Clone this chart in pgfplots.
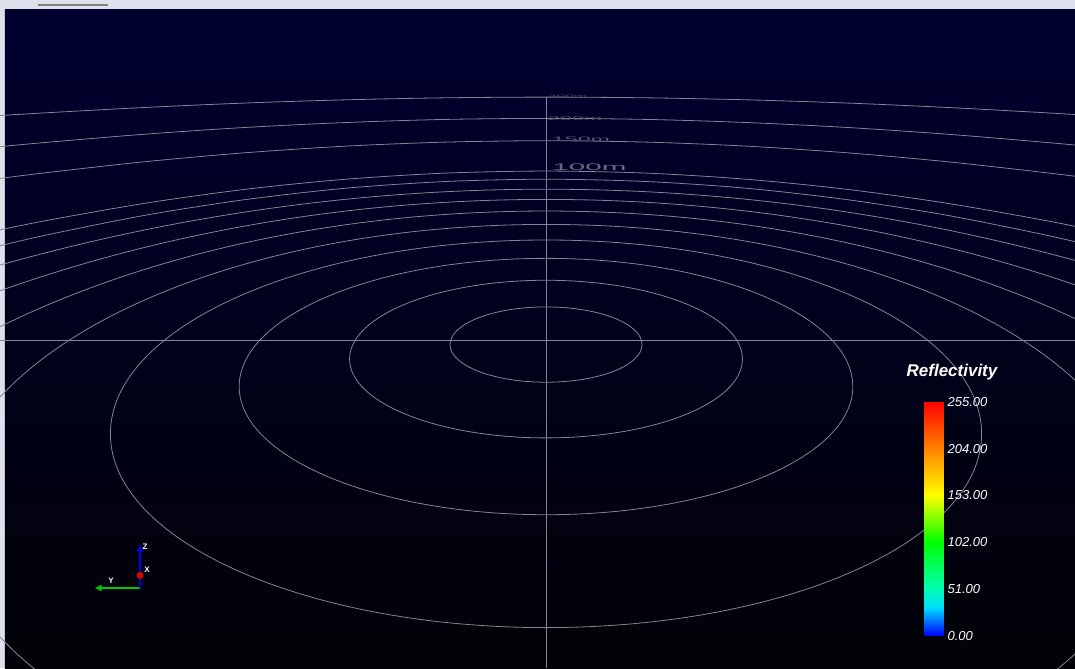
\documentclass[border=0pt]{standalone}
\usepackage{fontspec}
\setmainfont{Liberation Sans}
\usepackage{pgfplots}
\pgfplotsset{compat=1.18}
\usetikzlibrary{arrows.meta}

\definecolor{ringgray}{RGB}{132,132,146}
\definecolor{labelgray}{RGB}{105,105,128}
\definecolor{bgtop}{RGB}{0,0,48}
\definecolor{bgbottom}{RGB}{2,2,7}
\definecolor{winframe}{RGB}{222,224,236}
\definecolor{axgreen}{RGB}{0,200,0}
\definecolor{axblue}{RGB}{0,0,235}
\definecolor{axred}{RGB}{225,0,0}

\pgfplotsset{
  colormap={reflectivity}{rgb255(0cm)=(0,0,255); rgb255(1.2cm)=(0,220,255);
    rgb255(2cm)=(0,255,180); rgb255(4cm)=(0,255,0); rgb255(6cm)=(255,255,0);
    rgb255(8cm)=(255,130,0); rgb255(10cm)=(255,0,0)},
}
\tikzset{ring/.style={draw=ringgray, line width=0.6pt, mark=none}}

\begin{document}
\begin{tikzpicture}
\useasboundingbox (0,0) rectangle (806.25pt,501pt);
\begin{axis}[
  width=806.25pt, height=501pt, scale only axis,
  xmin=0, xmax=1075, ymin=0, ymax=668, y dir=reverse,
  hide axis,
  colormap name=reflectivity,
  point meta min=0, point meta max=255,
  colorbar,
  colorbar style={
    at={(parent axis.north west)}, anchor=north west,
    xshift=685pt, yshift=-301.3pt,
    width=15pt, height=175.5pt, scale only axis,
    ytick={0,51,102,153,204,255},
    yticklabels={0.00,51.00,102.00,153.00,204.00,255.00},
    yticklabel style={font=\fontsize{9.75}{10}\selectfont\itshape,
      text=white, inner sep=0pt, xshift=2pt},
    major tick length=0pt,
    axis line style={draw=none},
  },
]
% window frame and gradient background
\fill[winframe] (axis cs:0,0) rectangle (axis cs:1075,9);
\fill[winframe] (axis cs:0,0) rectangle (axis cs:5,668);
\fill[top color=bgtop, bottom color=bgbottom] (axis cs:5,9) rectangle (axis cs:1075,668);
\draw[gray, line width=1.5pt] (axis cs:38,4.5) -- (axis cs:108,4.5);

% polar grid: rings 10 m .. 80 m (closed in view)
\draw[ring] (axis cs:546,344.56) ellipse [x radius=96.0, y radius=37.65];
\draw[ring] (axis cs:546,359.07) ellipse [x radius=196.44, y radius=78.82];
\draw[ring] (axis cs:546,386.53) ellipse [x radius=306.83, y radius=128.19];
\draw[ring] (axis cs:546,433.80) ellipse [x radius=435.62, y radius=193.80];
\draw[ring] (axis cs:546,517.02) ellipse [x radius=598.4, y radius=292.60];
\draw[ring] (axis cs:546,681.72) ellipse [x radius=831.5, y radius=470.69];
\draw[ring] (axis cs:546,1118.4) ellipse [x radius=1254.9, y radius=918.99];
\draw[ring] (axis cs:546,4902.1) ellipse [x radius=3038.1, y radius=4712.9];

% far rings (90 m, 100 m, 150 m, 200 m, 300 m)
\addplot[ring, smooth] coordinates {
  (-14,249.1) (46,235.1) (146,215.1) (246,199.5) (346,188.2) (446,181.5) (546,179.2)
  (646,181.5) (746,188.2) (846,199.5) (946,215.1) (1046,235.1) (1106,249.1)};
\addplot[ring, smooth] coordinates {
  (-14,232.8) (46,220.6) (146,203.1) (246,189.2) (346,179.2) (446,173.1) (546,171.05)
  (646,173.1) (746,179.2) (846,189.2) (946,203.1) (1046,220.6) (1106,232.8)};
\addplot[ring, smooth] coordinates {
  (-14,180.2) (46,172.7) (146,161.6) (246,152.7) (346,146.1) (446,142.1) (546,140.7)
  (646,142.1) (746,146.1) (846,152.7) (946,161.6) (1046,172.7) (1106,180.2)};
\addplot[ring, smooth] coordinates {
  (-14,148.0) (46,142.4) (146,134.1) (246,127.4) (346,122.5) (446,119.4) (546,118.4)
  (646,119.4) (746,122.5) (846,127.4) (946,134.1) (1046,142.4) (1106,148.0)};
\addplot[ring, smooth] coordinates {
  (-14,116.4) (46,112.8) (146,107.4) (246,103.0) (346,99.8) (446,97.8) (546,97.1)
  (646,97.8) (746,99.8) (846,103.0) (946,107.4) (1046,112.8) (1106,116.4)};

% cross lines
\addplot[ring] coordinates {(0,340) (1075,340)};
\addplot[ring] coordinates {(546,96.7) (546,668)};

% ring labels lying on the ground
\node[text=labelgray, font=\fontsize{12}{12}\selectfont, xscale=1.85, yscale=0.6]
  at (axis cs:589.5,167) {100m};
\node[text=labelgray!85!black, font=\fontsize{12}{12}\selectfont, xscale=1.45, yscale=0.4]
  at (axis cs:581,139) {150m};
\node[text=labelgray!80!black, font=\fontsize{12}{12}\selectfont, xscale=1.35, yscale=0.35]
  at (axis cs:575,119) {200m};
\node[text=labelgray!70!black, font=\fontsize{12}{12}\selectfont, xscale=0.98, yscale=0.22]
  at (axis cs:567.5,96) {300m};

% orientation triad
\draw[axgreen, line width=1.1pt, -{Triangle[length=5pt,width=4.5pt]}]
  (axis cs:140,588) -- (axis cs:95,588);
\draw[axblue, line width=1.1pt, -{Triangle[length=5pt,width=4.5pt]}]
  (axis cs:140,588) -- (axis cs:140,545);
\fill[axred] (axis cs:140,575.5) circle [radius=3.5];
\node[text=white, font=\fontsize{6}{6}\selectfont\bfseries] at (axis cs:145,547) {Z};
\node[text=white, font=\fontsize{6}{6}\selectfont\bfseries] at (axis cs:147,570) {X};
\node[text=white, font=\fontsize{6}{6}\selectfont\bfseries] at (axis cs:111,581) {Y};

% colour legend title
\node[text=white, font=\fontsize{12.75}{13}\selectfont\bfseries\itshape]
  at (axis cs:952,372.5) {Reflectivity};
\end{axis}
\end{tikzpicture}
\end{document}
